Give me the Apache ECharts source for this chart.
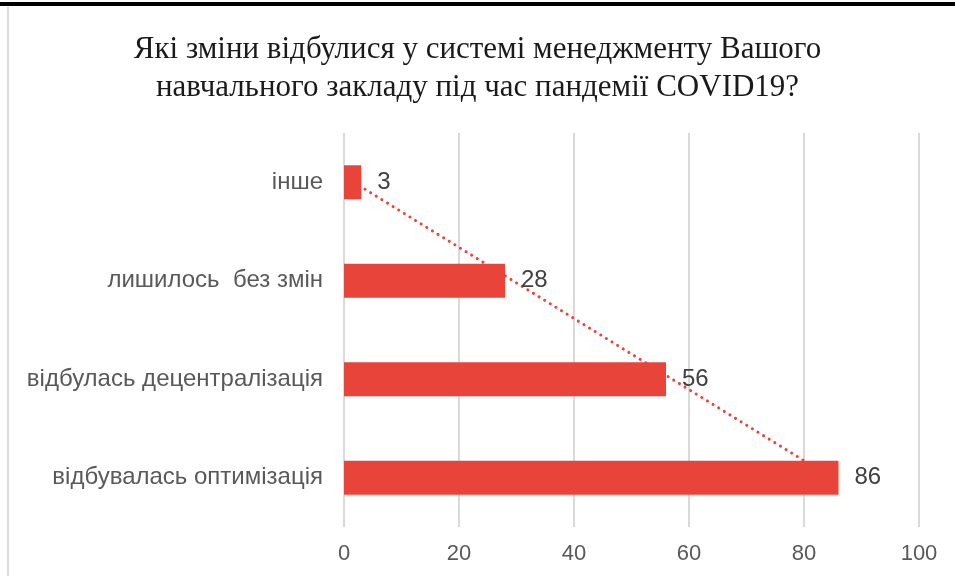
<!DOCTYPE html>
<html>
<head>
<meta charset="utf-8">
<script src="https://cdn.jsdelivr.net/npm/echarts@6/dist/echarts.min.js"></script>
<style>
  html, body { margin: 0; padding: 0; background: #fff; }
  #chart { width: 955px; height: 576px; }
</style>
</head>
<body>
<div id="chart"></div>
<script>
// категорії зверху вниз
const categories = ['інше', 'лишилось  без змін', 'відбулась децентралізація', 'відбувалась оптимізація']
const values = [3, 28, 56, 86]
// лінійний тренд (точковий)
const trendValues = [1.7, 29.4, 57.1, 84.8]
const xTicks = [0, 20, 40, 60, 80, 100]

const chart = echarts.init(document.getElementById('chart'))

const option = {
  backgroundColor: '#fff',
  animation: false,
  title: {
    text: 'Які зміни відбулися у системі менеджменту Вашого\nнавчального закладу під час пандемії COVID19?',
    left: 'center',
    top: 26,
    textStyle: {
      fontFamily: 'Liberation Serif',
      fontWeight: 'normal',
      fontSize: 31,
      lineHeight: 38,
      color: '#1a1a1a'
    }
  },
  graphic: [
    { type: 'rect', shape: { x: 0, y: 2, width: 955, height: 4 }, style: { fill: '#000' } },
    { type: 'rect', shape: { x: 7, y: 7, width: 2, height: 569 }, style: { fill: '#d9d9d9' } }
  ],
  grid: { left: 344, right: 36, top: 133, bottom: 49 },
  xAxis: {
    type: 'value',
    min: xTicks[0],
    max: xTicks[xTicks.length - 1],
    interval: 20,
    axisLine: { show: false },
    axisTick: { show: false },
    splitLine: { lineStyle: { color: '#d9d9d9', width: 2 } },
    axisLabel: { fontFamily: 'Liberation Sans', fontSize: 22, color: '#595959', margin: 16 }
  },
  yAxis: {
    type: 'category',
    data: categories,
    inverse: true,
    axisLine: { show: false },
    axisTick: { show: false },
    axisLabel: { fontFamily: 'Liberation Sans', fontSize: 24, color: '#595959', margin: 21 }
  },
  series: [
    {
      name: 'тренд',
      type: 'line',
      data: trendValues,
      symbol: 'none',
      z: 1,
      lineStyle: { color: '#e8443a', width: 3, type: [0.1, 6.5], cap: 'round' }
    },
    {
      name: 'відповіді',
      type: 'bar',
      data: values,
      barWidth: 34,
      z: 2,
      itemStyle: { color: '#e8443a' },
      label: {
        show: true,
        position: 'right',
        distance: 16,
        fontFamily: 'Liberation Sans',
        fontSize: 24,
        color: '#404040'
      }
    }
  ]
}

chart.setOption(option)
</script>
</body>
</html>
